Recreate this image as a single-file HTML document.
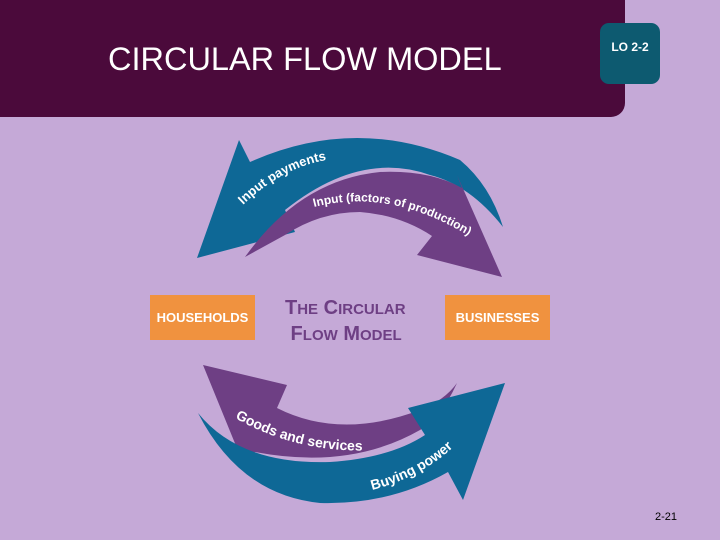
<!DOCTYPE html>
<html><head><style>
body{margin:0;width:720px;height:540px;background:#c5a9d7;position:relative;overflow:hidden;font-family:"Liberation Sans",sans-serif}
.hdr{position:absolute;left:0;top:0;width:625px;height:117px;background:#4b0a3b;border-radius:0 0 14px 0}
.ttl{position:absolute;left:108px;top:41px;color:#fff;font-size:32.5px}
.lo{position:absolute;left:600px;top:23px;width:60px;height:61px;background:#0d5a70;border-radius:9px;color:#fff;font-size:12px;font-weight:bold;text-align:center;line-height:48px}
.ob{position:absolute;top:295px;width:105px;height:45px;background:#f0923f;color:#fff;font-weight:bold;font-size:13px;text-align:center;line-height:45px}
.ct{position:absolute;left:285px;top:296px;color:#6e3f84;font-weight:bold;font-size:20px;line-height:24px}
.ct span{font-size:15px}
.pg{position:absolute;left:655px;top:511px;font-size:11px;color:#000}
</style></head><body>
<div class="hdr"></div>
<div class="ttl">CIRCULAR FLOW MODEL</div>
<div class="lo">LO 2-2</div>
<svg width="720" height="540" style="position:absolute;left:0;top:0">
<path d="M250,162 Q355,115 460,160 Q490,185 503,227 Q470,185 430,175 Q360,150 285,210 L295,232 L197,258 L239,140 Z" fill="#0e6896"/>
<path d="M245,257 Q300,180 380,172 Q430,170 462,188 L457,175 L502,277 L417,255 L432,236 Q400,215 360,212 Q320,212 285,235 Z" fill="#6e3f84"/>
<path d="M203,365 L287,385 L277,408 Q340,440 420,410 Q445,400 457,383 Q440,420 420,430 Q350,470 255,452 L243,463 Z" fill="#6e3f84"/>
<path d="M198,413 Q240,465 330,462 Q390,458 425,435 L408,408 L505,383 L463,500 L448,472 Q390,505 320,503 Q240,495 198,413 Z" fill="#0e6896"/>
<defs>
<path id="p1" d="M243,205 Q290,160 345,158"/>
<path id="p2" d="M314,207 Q400,185 490,250"/>
<path id="p3" d="M235,418 Q300,455 380,450"/>
<path id="p4" d="M372,490 Q430,475 465,435"/>
</defs>
<g fill="#fff" font-family="Liberation Sans,sans-serif" font-weight="bold">
<text font-size="13"><textPath href="#p1">Input payments</textPath></text>
<text font-size="12"><textPath href="#p2">Input (factors of production)</textPath></text>
<text font-size="14"><textPath href="#p3">Goods and services</textPath></text>
<text font-size="14"><textPath href="#p4">Buying power</textPath></text>
</g>
</svg>
<div class="ob" style="left:150px">HOUSEHOLDS</div>
<div class="ob" style="left:445px">BUSINESSES</div>
<div class="ct">T<span>HE</span> C<span>IRCULAR</span><br>&nbsp;F<span>LOW</span> M<span>ODEL</span></div>
<div class="pg">2-21</div>
</body></html>
